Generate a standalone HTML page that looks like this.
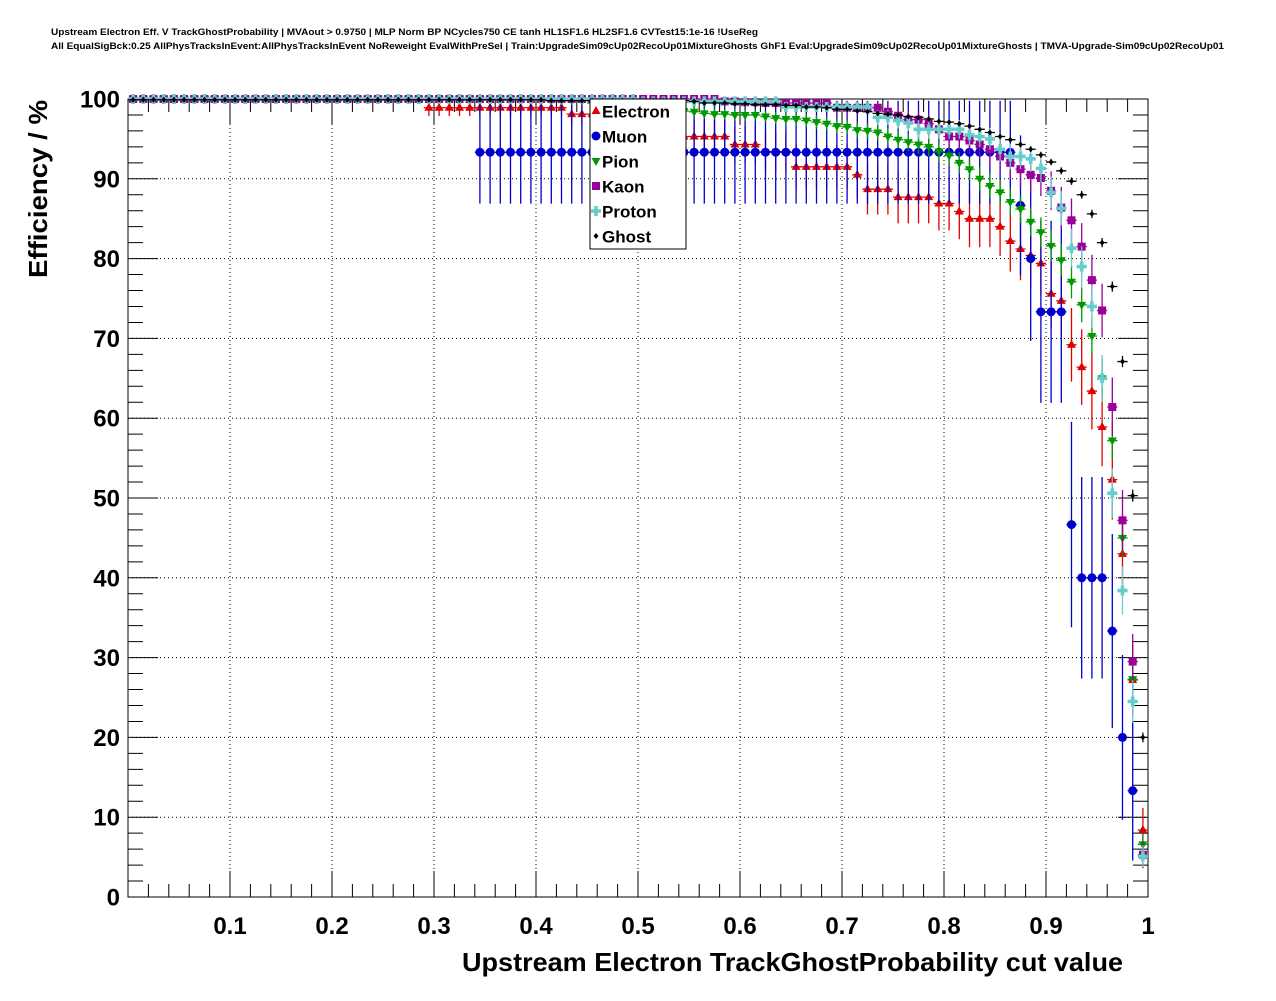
<!DOCTYPE html>
<html><head><meta charset="utf-8"><style>
body{margin:0;background:#fff;}
svg text{font-family:"Liberation Sans",Arial,sans-serif;font-weight:bold;}
</style></head><body>
<svg id="chart" width="1276" height="996" xmlns="http://www.w3.org/2000/svg">
<rect x="0" y="0" width="1276" height="996" fill="#fff"/>
<text x="51" y="35" font-size="9.5" textLength="707" lengthAdjust="spacingAndGlyphs">Upstream Electron Eff. V TrackGhostProbability | MVAout &gt; 0.9750 | MLP Norm BP NCycles750 CE tanh HL1SF1.6 HL2SF1.6 CVTest15:1e-16 !UseReg</text>
<text x="51" y="49" font-size="9.5" textLength="1173" lengthAdjust="spacingAndGlyphs">All EqualSigBck:0.25 AllPhysTracksInEvent:AllPhysTracksInEvent NoReweight EvalWithPreSel | Train:UpgradeSim09cUp02RecoUp01MixtureGhosts GhF1 Eval:UpgradeSim09cUp02RecoUp01MixtureGhosts | TMVA-Upgrade-Sim09cUp02RecoUp01</text>
<g id="grid"></g>
<g id="axes"></g>
<g id="series"></g>
<text x="462" y="971" font-size="26" textLength="661" lengthAdjust="spacingAndGlyphs">Upstream Electron TrackGhostProbability cut value</text>
<text transform="translate(47,278) rotate(-90)" font-size="26" textLength="178" lengthAdjust="spacingAndGlyphs">Efficiency / %</text>
<g id="legend"></g>
</svg>
<script>
const xTicks=[0.1,0.2,0.3,0.4,0.5,0.6,0.7,0.8,0.9,1];
const xTickLabels=["0.1","0.2","0.3","0.4","0.5","0.6","0.7","0.8","0.9","1"];
const yTicks=[0,10,20,30,40,50,60,70,80,90,100];
const yTickLabels=["0","10","20","30","40","50","60","70","80","90","100"];
const names=["Electron","Muon","Pion","Kaon","Proton","Ghost"];
const electron=[100,100,100,100,100,100,100,100,100,100,100,100,100,100,100,100,100,100,100,100,100,100,100,100,100,100,100,100,100,
98.9,98.9,98.9,98.9,98.9,98.9,98.9,98.9,98.9,98.9,98.9,98.9,98.9,98.9,
98.1,98.1,98.1,98.1,98.1,98.1,98.1,
97.2,97.2,96.2,96.2,95.3,
95.3,95.3,95.3,95.3,94.3,94.3,94.3,93.4,93.4,93.4,
91.5,91.5,91.5,91.5,91.5,91.5,90.5,88.7,88.7,88.7,87.7,87.7,87.7,87.7,86.9,86.9,85.9,85.0,85.0,85.0,
84.0,82.2,81.2,80.4,79.4,75.6,74.7,69.2,66.4,63.4,58.9,52.3,43.0,27.2,8.4];
const muon=[100,100,100,100,100,100,100,100,100,100,100,100,100,100,100,100,100,100,100,100,100,100,100,100,100,100,100,100,100,100,100,100,100,100,
93.33,93.33,93.33,93.33,93.33,93.33,93.33,93.33,93.33,93.33,93.33,93.33,93.33,93.33,93.33,93.33,93.33,93.33,93.33,93.33,93.33,93.33,93.33,93.33,93.33,93.33,93.33,93.33,93.33,93.33,93.33,93.33,93.33,93.33,93.33,93.33,93.33,93.33,93.33,93.33,93.33,93.33,93.33,93.33,93.33,93.33,93.33,93.33,93.33,93.33,93.33,93.33,93.33,
86.67,80,73.33,73.33,73.33,46.67,40,40,40,33.33,20,13.33,null];
const pion=[100,100,100,100,100,100,100,100,100,100,100,100,100,100,100,100,100,100,100,100,100,100,100,100,100,100,100,100,100,100,100,100,100,100,100,100,100,100,100,100,
99.8,99.8,99.8,99.8,99.8,99.5,99.5,99.5,99.5,99.5,99.0,98.9,98.8,98.6,98.5,
98.4,98.2,98.1,98.1,98.0,98.0,98.0,97.8,97.6,97.5,97.5,97.3,97.1,96.9,96.6,96.5,96.1,96.0,95.8,95.3,
94.9,94.6,94.3,94.0,93.4,92.9,92.0,91.2,90.0,89.1,88.3,87.1,86.2,84.6,83.3,81.6,79.8,77.1,74.2,70.3,
65.0,57.2,45.0,27.3,6.6];
const kaon=[100,100,100,100,100,100,100,100,100,100,100,100,100,100,100,100,100,100,100,100,100,100,100,100,100,100,100,100,100,100,100,100,100,100,100,100,100,100,100,100,100,100,100,100,100,100,100,100,100,100,100,100,100,100,100,100,100,100,
99.7,99.7,99.6,99.6,99.5,99.5,99.5,99.5,99.5,99.5,99.5,98.9,98.9,98.9,98.9,98.9,
98.4,97.9,97.4,97.4,96.9,96.2,95.3,95.3,94.8,94.3,93.7,92.8,92.0,91.2,90.5,90.1,88.5,86.4,84.8,81.5,77.3,73.5,61.4,47.2,29.5,5.3];
const proton=[100,100,100,100,100,100,100,100,100,100,100,100,100,100,100,100,100,100,100,100,100,100,100,100,100,100,100,100,100,100,100,100,100,100,100,100,100,100,100,100,100,100,100,100,100,100,100,100,100,100,
99.7,99.7,99.7,99.7,99.7,99.7,99.7,99.7,99.7,99.7,99.7,99.7,99.7,99.7,
99.0,99.0,99.0,99.0,99.0,99.0,99.0,99.0,99.0,
97.7,97.7,97.3,97.0,96.2,96.2,96.2,96.2,96.2,
95.5,95.3,95.0,93.7,92.8,92.8,92.5,91.3,88.3,86.3,81.3,79.0,74.0,65.0,50.6,38.4,24.5,5.1];
const ghost=[99.9,99.9,99.9,99.9,99.9,99.9,99.9,99.9,99.9,99.9,99.9,99.9,99.9,99.9,99.9,99.9,99.9,99.9,99.9,99.9,99.9,99.9,99.9,99.9,99.9,99.9,99.9,99.9,99.9,99.9,99.9,99.9,99.9,99.9,99.9,99.9,99.9,99.9,99.9,99.9,99.9,
99.8,99.8,99.8,99.8,99.8,99.8,99.8,99.8,99.8,99.8,99.8,99.8,99.8,99.8,
99.7,99.5,99.5,99.5,99.4,99.4,99.3,99.3,99.3,99.2,99.2,99.0,99.0,98.9,98.7,98.7,98.5,98.4,98.2,98.1,
98.0,97.8,97.7,97.5,97.2,97.1,96.9,96.6,96.2,95.8,95.3,94.9,94.3,93.7,93.0,92.1,91.0,89.7,88.0,85.6,
82.0,76.5,67.1,50.3,20.0];
const errScale=[10,25.8,5,7.6,6.2,1.5];

const X0=128,X1=1148,Y0=897,Y1=99;
const sx=v=>X0+(X1-X0)*v;
const sy=v=>Y0-(Y0-Y1)*v/100;
const NS="http://www.w3.org/2000/svg";
function mk(tag,attrs,parent){const e=document.createElementNS(NS,tag);for(const k in attrs)e.setAttribute(k,attrs[k]);parent.appendChild(e);return e;}
const grid=document.getElementById('grid'),axes=document.getElementById('axes'),ser=document.getElementById('series'),leg=document.getElementById('legend');

xTicks.forEach((t,i)=>{
  if(t<1){const l=mk('line',{x1:sx(t),x2:sx(t),y1:Y0,y2:Y1,stroke:'#000','stroke-width':1,'stroke-dasharray':'1,3'},grid);
  
  }
  const tx=mk('text',{x:sx(t),y:934,'font-size':24,'text-anchor':'middle'},axes);
  tx.textContent=xTickLabels[i];
  
  
});
yTicks.forEach((t,i)=>{
  if(t>0&&t<100){const l=mk('line',{x1:X0,x2:X1,y1:sy(t),y2:sy(t),stroke:'#000','stroke-width':1,'stroke-dasharray':'1,3'},grid);
  
  }
  const tx=mk('text',{x:120,y:sy(t)+8.5,'font-size':24,'text-anchor':'end'},axes);
  tx.textContent=yTickLabels[i];
  
  
});
let tp='';
for(let k=0;k<=50;k++){const v=k/50,x=sx(v),L=(k%5==0)?26:13;tp+=`M${x},${Y0}v${-L}M${x},${Y1}v${L}`;}
for(let k=0;k<=50;k++){const v=k*2,y=sy(v),L=(k%5==0)?30:15;tp+=`M${X0},${y}h${L}M${X1},${y}h${-L}`;}
const tk=mk('path',{d:tp,stroke:'#000','stroke-width':1,fill:'none'},axes);


const fr=mk('rect',{x:X0,y:Y1,width:X1-X0,height:Y0-Y1,fill:'none',stroke:'#000','stroke-width':1},axes);



const colors=['#e00000','#0000cc','#009900','#990099','#66cccc','#000000'];
const data=[electron,muon,pion,kaon,proton,ghost];
function marker(s,x,y,c,p){
  let e;
  if(s==0)e=mk('path',{d:`M${x},${y-5}L${x+4.5},${y+3}L${x-4.5},${y+3}Z`,fill:c},p);
  else if(s==1)e=mk('circle',{cx:x,cy:y,r:4.5,fill:c},p);
  else if(s==2)e=mk('path',{d:`M${x},${y+5}L${x+4.5},${y-3}L${x-4.5},${y-3}Z`,fill:c},p);
  else if(s==3)e=mk('rect',{x:x-4,y:y-4,width:8,height:8,fill:c},p);
  else if(s==4)e=mk('path',{d:`M${x-1.8},${y-5}h3.6v3.2h3.2v3.6h-3.2v3.2h-3.6v-3.2h-3.2v-3.6h3.2Z`,fill:c},p);
  else e=mk('path',{d:`M${x},${y-3}L${x+2.5},${y}L${x},${y+3}L${x-2.5},${y}Z`,fill:c},p);
  return e;
}
data.forEach((arr,s)=>{
  const g=mk('g',{},ser);
  
  
  let d='';
  arr.forEach((v,i)=>{
    if(v===null)return;
    const xc=(i+0.5)/100,x=sx(xc),y=sy(v);
    const p=v/100,err=errScale[s]*Math.sqrt(Math.max(p*(1-p),0));
    d+=`M${sx(i/100)},${y}H${sx((i+1)/100)}`;
    if(err>0){d+=`M${x},${Math.max(sy(Math.min(v+err,100.2)),Y1)}V${Math.min(sy(v-err),Y0)}`;}
  });
  const eb=mk('path',{d:d,stroke:colors[s],'stroke-width':1.3,fill:'none'},g);
  
  
  arr.forEach((v,i)=>{
    if(v===null)return;
    const m=marker(s,sx((i+0.5)/100),sy(v),colors[s],g);
    
    
  });
});
const lb=mk('rect',{x:590,y:99,width:96,height:150,fill:'#fff',stroke:'#000','stroke-width':1},leg);


names.forEach((n,s)=>{
  const y=111+s*25;
  const g=mk('g',{},leg);
  
  
  marker(s,596,y,colors[s],g);
  const t=mk('text',{x:602,y:y+6.5,'font-size':17},g);
  t.textContent=n;
});
</script>
</body></html>
